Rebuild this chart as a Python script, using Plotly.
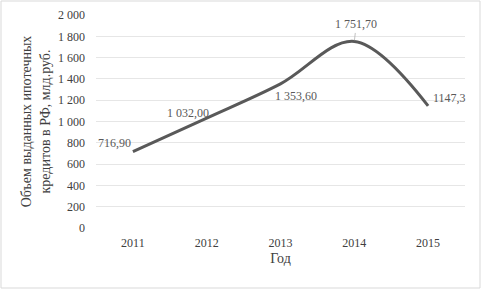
import plotly.graph_objects as go

years = ["2011", "2012", "2013", "2014", "2015"]
values = [716.9, 1032.0, 1353.6, 1751.7, 1147.3]
labels = ["716,90", "1 032,00", "1 353,60", "1 751,70", "1147,3"]
y_ticks = [0, 200, 400, 600, 800, 1000, 1200, 1400, 1600, 1800, 2000]
y_tick_text = ["0", "200", "400", "600", "800", "1 000", "1 200", "1 400", "1 600", "1 800", "2 000"]

# label offsets in pixels (text centre relative to the point)
offsets = [(-18, -9), (-19, -5), (15, 12), (2, -17), (21, -8)]
leader = [False, False, False, True, False]

font = "Liberation Serif"
grey = "#595959"

fig = go.Figure()
fig.add_trace(go.Scatter(
    x=years, y=values, mode="lines",
    line=dict(color=grey, width=3, shape="spline", smoothing=1.0),
    hoverinfo="skip", showlegend=False,
))

for i, (y, t, (dx, dy), ld) in enumerate(zip(values, labels, offsets, leader)):
    fig.add_annotation(
        x=i, y=y, xref="x", yref="y", text=t, showarrow=True,
        ax=dx, ay=dy, arrowhead=0, arrowwidth=0.7,
        arrowcolor="#a6a6a6" if ld else "rgba(0,0,0,0)",
        standoff=1, startstandoff=0,
        font=dict(family=font, size=12, color=grey),
    )

fig.update_layout(
    width=482, height=290,
    margin=dict(l=96, r=17, t=15, b=62, autoexpand=False),
    paper_bgcolor="white", plot_bgcolor="white",
    font=dict(family=font, size=12, color=grey),
    xaxis=dict(
        type="category", range=[-0.5, 4.5], autorange=False, automargin=False,
        showgrid=False, zeroline=False, showline=False,
        ticks="", ticklabelstandoff=6, tickfont=dict(family=font, size=12, color="#404040"),
        title=dict(text="Год", font=dict(family=font, size=14, color="#404040"), standoff=4),
    ),
    yaxis=dict(
        range=[0, 2000], autorange=False, automargin=False,
        tickvals=y_ticks, ticktext=y_tick_text, ticklabelstandoff=10,
        showgrid=True, gridcolor="#e6e6e6", gridwidth=1, zeroline=False,
        showline=False, ticks="", ticklen=0,
        tickfont=dict(family=font, size=12, color="#404040"),
        title=dict(text="Объем выданных ипотечных<br>кредитов в РФ, млд.руб.",
                   font=dict(family=font, size=14, color="#404040"), standoff=4),
    ),
    shapes=[dict(type="rect", xref="paper", yref="paper",
                 x0=-95/369, x1=1 + 15/369, y0=-60/213, y1=1 + 14/213,
                 line=dict(color="#d9d9d9", width=1), fillcolor="rgba(0,0,0,0)", layer="below")],
)

fig.write_html(
    "out.html",
    config={"displayModeBar": False},
    post_script="document.body.style.margin='0';document.body.style.overflow='hidden';",
)
